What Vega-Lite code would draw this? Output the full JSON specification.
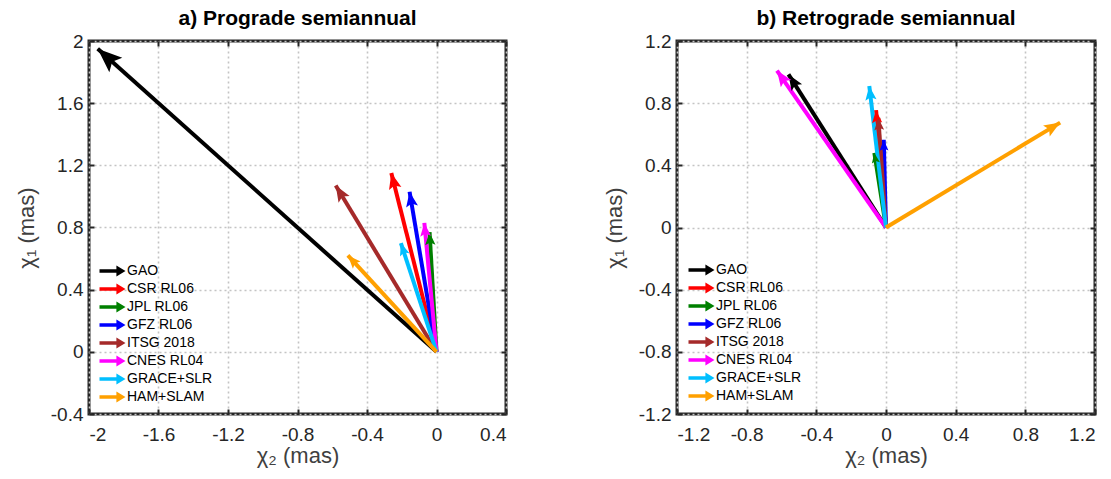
{
  "$schema": "https://vega.github.io/schema/vega-lite/v6.json",
  "autosize": {"type": "pad"},
  "padding": {"left": 13, "top": 6, "right": 0, "bottom": 0},
  "background": "white",
  "datasets": {
    "a": [
      {"model": "GAO", "x2": -1.95, "x1": 1.95},
      {"model": "CSR RL06", "x2": -0.26, "x1": 1.15},
      {"model": "JPL RL06", "x2": -0.04, "x1": 0.77},
      {"model": "GFZ RL06", "x2": -0.155, "x1": 1.03},
      {"model": "ITSG 2018", "x2": -0.58, "x1": 1.07},
      {"model": "CNES RL04", "x2": -0.07, "x1": 0.83},
      {"model": "GRACE+SLR", "x2": -0.205, "x1": 0.70},
      {"model": "HAM+SLAM", "x2": -0.51, "x1": 0.62}
    ],
    "b": [
      {"model": "GAO", "x2": -0.56, "x1": 0.985},
      {"model": "CSR RL06", "x2": -0.057, "x1": 0.755},
      {"model": "JPL RL06", "x2": -0.067, "x1": 0.48},
      {"model": "GFZ RL06", "x2": -0.013, "x1": 0.565},
      {"model": "ITSG 2018", "x2": -0.044, "x1": 0.705},
      {"model": "CNES RL04", "x2": -0.626, "x1": 1.01},
      {"model": "GRACE+SLR", "x2": -0.096, "x1": 0.91},
      {"model": "HAM+SLAM", "x2": 1.0, "x1": 0.675}
    ]
  },
  "bounds": "flush",
  "spacing": 171,
  "resolve": {"legend": {"color": "independent"}},
  "config": {
    "font": "Liberation Sans",
    "view": {"stroke": "#262626", "strokeWidth": 3},
    "axis": {
      "domain": false, "tickColor": "#262626", "tickWidth": 2, "tickSize": -5,
      "gridColor": "#c4c4c4", "gridDash": [2, 3], "gridWidth": 1.6,
      "labelExpr": "'' + datum.value"
    }
  },
  "hconcat": [
    {
      "title": {"text": "a) Prograde semiannual", "fontSize": 21, "fontWeight": "bold", "font": "Liberation Sans", "color": "black", "offset": 3, "anchor": "middle"},
      "width": 417, "height": 373,
      "data": {"name": "a"},
      "transform": [
        {"calculate": "atan2(datum.x2*417, datum.x1*373)*180/PI", "as": "ang"},
        {"calculate": "sqrt(datum.x2*datum.x2 + datum.x1*datum.x1)", "as": "len"}
      ],
      "layer": [
        {
          "mark": {"type": "rule", "strokeWidth": 4, "strokeCap": "butt"},
          "encoding": {
            "x": {"field": "x2", "type": "quantitative", "scale": {"domain": [-2, 0.4], "nice": false, "zero": false},
                  "axis": {"orient": "bottom", "values": [-2, -1.6, -1.2, -0.8, -0.4, 0, 0.4], "grid": true, "labelPadding": 16, "labelFontSize": 19, "labelColor": "#262626", "labelFont": "Liberation Sans", "title": "χ₂ (mas)", "titleFontSize": 22, "titleFont": "Liberation Sans", "titleFontWeight": "normal", "titleColor": "#404040", "titlePadding": 1}},
            "y": {"field": "x1", "type": "quantitative", "scale": {"domain": [-0.4, 2], "nice": false, "zero": false},
                  "axis": {"orient": "left", "values": [-0.4, 0, 0.4, 0.8, 1.2, 1.6, 2], "grid": true, "labelPadding": 11, "labelFontSize": 19, "labelColor": "#262626", "labelFont": "Liberation Sans", "title": "χ₁ (mas)", "titleFontSize": 22, "titleFont": "Liberation Sans", "titleFontWeight": "normal", "titleColor": "#404040", "titlePadding": 12}},
            "x2": {"datum": 0},
            "y2": {"datum": 0},
            "color": {"field": "model", "type": "nominal",
                      "scale": {"domain": ["GAO", "CSR RL06", "JPL RL06", "GFZ RL06", "ITSG 2018", "CNES RL04", "GRACE+SLR", "HAM+SLAM"],
                                "range": ["#000000", "#ff0000", "#008000", "#0000ff", "#a52a2a", "#ff00ff", "#00bfff", "#ffa000"]},
                      "legend": {"title": null, "orient": "bottom-left", "offset": 10, "padding": 0,
                                 "labelFont": "Liberation Sans", "labelFontSize": 14, "labelColor": "black", "labelOffset": 14,
                                 "symbolType": "M-1,-0.28 L1.6,-0.28 L1.6,-0.84 L3,0 L1.6,0.84 L1.6,0.28 L-1,0.28 Z",
                                 "symbolSize": 169, "symbolStrokeWidth": 0, "symbolOpacity": 1, "rowPadding": 4}}
          }
        },
        {
          "mark": {"type": "point", "filled": true, "opacity": 1, "shape": "M0,0 L-0.4,1 L0,0.8 L0.4,1 Z", "strokeWidth": 0},
          "encoding": {
            "x": {"field": "x2", "type": "quantitative", "axis": {"orient": "top", "values": [-2, -1.6, -1.2, -0.8, -0.4, 0, 0.4], "labels": false, "grid": false, "title": null}},
            "y": {"field": "x1", "type": "quantitative", "axis": {"orient": "right", "values": [-0.4, 0, 0.4, 0.8, 1.2, 1.6, 2], "labels": false, "grid": false, "title": null}},
            "angle": {"field": "ang", "type": "quantitative", "scale": null},
            "size": {"field": "len", "type": "quantitative", "scale": {"domain": [0, 2.8], "range": [0, 2400]}, "legend": null},
            "color": {"field": "model", "type": "nominal"}
          }
        }
      ],
      "resolve": {"axis": {"x": "independent", "y": "independent"}}
    },
    {
      "title": {"text": "b) Retrograde semiannual", "fontSize": 21, "fontWeight": "bold", "font": "Liberation Sans", "color": "black", "offset": 3, "anchor": "middle"},
      "width": 418, "height": 373,
      "data": {"name": "b"},
      "transform": [
        {"calculate": "atan2(datum.x2*418, datum.x1*373)*180/PI", "as": "ang"},
        {"calculate": "sqrt(datum.x2*datum.x2 + datum.x1*datum.x1)", "as": "len"}
      ],
      "layer": [
        {
          "mark": {"type": "rule", "strokeWidth": 4, "strokeCap": "butt"},
          "encoding": {
            "x": {"field": "x2", "type": "quantitative", "scale": {"domain": [-1.2, 1.2], "nice": false, "zero": false},
                  "axis": {"orient": "bottom", "values": [-1.2, -0.8, -0.4, 0, 0.4, 0.8, 1.2], "grid": true, "labelPadding": 16, "labelFontSize": 19, "labelColor": "#262626", "labelFont": "Liberation Sans", "title": "χ₂ (mas)", "titleFontSize": 22, "titleFont": "Liberation Sans", "titleFontWeight": "normal", "titleColor": "#404040", "titlePadding": 1}},
            "y": {"field": "x1", "type": "quantitative", "scale": {"domain": [-1.2, 1.2], "nice": false, "zero": false},
                  "axis": {"orient": "left", "values": [-1.2, -0.8, -0.4, 0, 0.4, 0.8, 1.2], "grid": true, "labelPadding": 11, "labelFontSize": 19, "labelColor": "#262626", "labelFont": "Liberation Sans", "title": "χ₁ (mas)", "titleFontSize": 22, "titleFont": "Liberation Sans", "titleFontWeight": "normal", "titleColor": "#404040", "titlePadding": 12}},
            "x2": {"datum": 0},
            "y2": {"datum": 0},
            "color": {"field": "model", "type": "nominal",
                      "legend": {"title": null, "orient": "bottom-left", "offset": 11, "padding": 0,
                                 "labelFont": "Liberation Sans", "labelFontSize": 14, "labelColor": "black", "labelOffset": 14,
                                 "symbolType": "M-1,-0.28 L1.6,-0.28 L1.6,-0.84 L3,0 L1.6,0.84 L1.6,0.28 L-1,0.28 Z",
                                 "symbolSize": 169, "symbolStrokeWidth": 0, "symbolOpacity": 1, "rowPadding": 4}}
          }
        },
        {
          "mark": {"type": "point", "filled": true, "opacity": 1, "shape": "M0,0 L-0.4,1 L0,0.8 L0.4,1 Z", "strokeWidth": 0},
          "encoding": {
            "x": {"field": "x2", "type": "quantitative", "axis": {"orient": "top", "values": [-1.2, -0.8, -0.4, 0, 0.4, 0.8, 1.2], "labels": false, "grid": false, "title": null}},
            "y": {"field": "x1", "type": "quantitative", "axis": {"orient": "right", "values": [-1.2, -0.8, -0.4, 0, 0.4, 0.8, 1.2], "labels": false, "grid": false, "title": null}},
            "angle": {"field": "ang", "type": "quantitative", "scale": null},
            "size": {"field": "len", "type": "quantitative", "scale": {"domain": [0, 2.8], "range": [0, 2400]}, "legend": null},
            "color": {"field": "model", "type": "nominal"}
          }
        }
      ],
      "resolve": {"axis": {"x": "independent", "y": "independent"}}
    }
  ]
}
